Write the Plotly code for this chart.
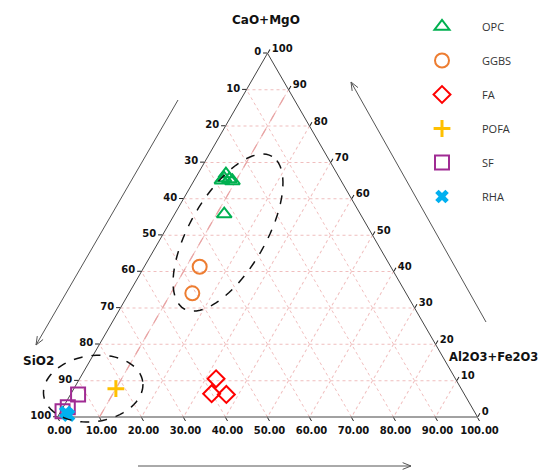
import math
import plotly.graph_objects as go

# ---------------- data (% composition) ----------------
materials = ["OPC", "GGBS", "FA", "POFA", "SF", "RHA"]

opc_cao_mgo = [65.7, 65.4, 66.8, 64.9, 65.1, 55.8]
opc_sio2 = [27.5, 26.4, 26.5, 25.9, 28.3, 32.4]
opc_al_fe = [6.8, 8.2, 6.7, 9.2, 6.6, 11.8]

ggbs_cao_mgo = [41.3, 34.0]
ggbs_sio2 = [45.5, 50.9]
ggbs_al_fe = [13.2, 15.1]

fa_cao_mgo = [10.5, 6.4, 6.2]
fa_sio2 = [57.0, 60.1, 56.7]
fa_al_fe = [32.5, 33.5, 37.1]

pofa_cao_mgo = [7.8]
pofa_sio2 = [82.2]
pofa_al_fe = [10.0]

sf_cao_mgo = [6.2, 2.7, 1.6]
sf_sio2 = [92.0, 96.2, 98.0]
sf_al_fe = [1.8, 1.1, 0.4]

rha_cao_mgo = [1.3, 0.5]
rha_sio2 = [97.4, 97.1]
rha_al_fe = [1.3, 2.4]

tick_values = [0, 10, 20, 30, 40, 50, 60, 70, 80, 90, 100]

# ---------------- layout geometry ----------------
# the page body adds an 8 px margin; work in window pixels and shift
OFF = 8
FW, FH = 550 - OFF, 470 - OFF
TW = 420.0
TH = TW * math.sqrt(3) / 2
X0 = 267.5 - TW / 2   # window px of left corner
YB = 417.0            # window px of bottom edge


def px(x, y):
    return (x - OFF) / FW, 1 - (y - OFF) / FH


def tern_to_px(a, b, c):
    s = a + b + c
    a, c = a / s, c / s
    X = c + a / 2
    return X0 + TW * X, YB - TH * a


series = [
    ("OPC", opc_cao_mgo, opc_sio2, opc_al_fe,
     dict(symbol="triangle-up-open", size=13, color="#00B050", line=dict(width=2, color="#00B050"))),
    ("GGBS", ggbs_cao_mgo, ggbs_sio2, ggbs_al_fe,
     dict(symbol="circle-open", size=14, color="#ED7D31", line=dict(width=2, color="#ED7D31"))),
    ("FA", fa_cao_mgo, fa_sio2, fa_al_fe,
     dict(symbol="diamond-open", size=13, color="#FF0000", line=dict(width=2, color="#FF0000"))),
    ("POFA", pofa_cao_mgo, pofa_sio2, pofa_al_fe,
     dict(symbol="cross-thin-open", size=12, color="#FFC000", line=dict(width=3, color="#FFC000"))),
    ("SF", sf_cao_mgo, sf_sio2, sf_al_fe,
     dict(symbol="square-open", size=14, color="#A02B93", line=dict(width=2, color="#A02B93"))),
    ("RHA", rha_cao_mgo, rha_sio2, rha_al_fe,
     dict(symbol="x", size=12, color="#00B0F0", line=dict(width=0))),
]

fig = go.Figure()

# highlighted 10 % Al2O3+Fe2O3 line
fig.add_trace(go.Scatterternary(
    a=[0, 90], b=[90, 0], c=[10, 10], mode="lines",
    line=dict(color="#E8A3A3", width=1.3, dash="dash"),
    showlegend=False, hoverinfo="skip"))

for name, a, b, c, mk in series:
    fig.add_trace(go.Scatterternary(
        a=a, b=b, c=c, mode="markers", name=name, marker=mk,
        legendgroup=name, cliponaxis=False))

axis_common = dict(
    tickmode="array", tickvals=tick_values,
    linecolor="#444444", linewidth=1,
    showgrid=True, gridcolor="#F0BEBE", griddash="dot", gridwidth=1,
    ticks="outside", ticklen=4, tickcolor="#222222",
    tickfont=dict(family="DejaVu Sans", size=10, color="#111111", weight="bold"),
    title=dict(text=""), layer="below traces", min=0)

dx0, dy_top = px(X0, YB - TH)
dx1, dy_bot = px(X0 + TW, YB)

fig.update_layout(
    width=FW, height=FH,
    margin=dict(l=0, r=0, t=0, b=0),
    paper_bgcolor="white", plot_bgcolor="white",
    ternary=dict(
        domain=dict(x=[dx0, dx1], y=[dy_bot, dy_top]),
        bgcolor="white", sum=100,
        aaxis=dict(axis_common, ticktext=[str(100 - v) for v in tick_values]),
        baxis=dict(axis_common, ticktext=["%.2f" % (100 - v) for v in tick_values]),
        caxis=dict(axis_common, ticktext=[str(100 - v) for v in tick_values]),
    ),
    showlegend=True,
    legend=dict(x=px(402, 0)[0], y=px(0, 12)[1], xanchor="left", yanchor="top",
                orientation="v", tracegroupgap=15, itemwidth=70,
                font=dict(family="Open Sans", size=11, color="#333333"),
                bgcolor="rgba(0,0,0,0)"),
)

# axis titles
for text, x, y, size in [("CaO+MgO", 266, 20, 12), ("SiO2", 38, 361, 12),
                         ("Al2O3+Fe2O3", 493, 357, 11.5)]:
    xx, yy = px(x, y)
    fig.add_annotation(text=text, x=xx, y=yy, xref="paper", yref="paper",
                       xanchor="center", yanchor="middle", showarrow=False,
                       font=dict(family="DejaVu Sans", size=size, color="#111111", weight="bold"))


# dashed ellipses (defined around a ternary centre)
def ellipse_path(center, semi_a, semi_b, angle_deg, n=80):
    cx, cy = tern_to_px(*center)
    t = math.radians(angle_deg)
    pts = []
    for i in range(n + 1):
        u = 2 * math.pi * i / n
        ex, ey = semi_a * math.cos(u), semi_b * math.sin(u)
        x = cx + ex * math.cos(t) - ey * math.sin(t)
        y = cy - (ex * math.sin(t) + ey * math.cos(t))
        pts.append(px(x, y))
    return "M " + " L ".join("%.5f,%.5f" % p for p in pts) + " Z"


for center, sa, sb, ang in [((50.7, 34.05, 15.25), 88, 38, 60), ((7.8, 87.6, 4.6), 50, 33, 8)]:
    fig.add_shape(type="path", path=ellipse_path(center, sa, sb, ang),
                  xref="paper", yref="paper",
                  line=dict(color="#111111", width=1.5, dash="dash"))


# arrows parallel to the sides
def arrow(x1, y1, x2, y2, head=9, spread=22):
    p1, p2 = px(x1, y1), px(x2, y2)
    fig.add_shape(type="line", x0=p1[0], y0=p1[1], x1=p2[0], y1=p2[1],
                  xref="paper", yref="paper", line=dict(color="#555555", width=1))
    ang = math.atan2(y1 - y2, x1 - x2)
    for s in (-1, 1):
        a = ang + s * math.radians(spread)
        hx, hy = x2 + head * math.cos(a), y2 + head * math.sin(a)
        q = px(hx, hy)
        fig.add_shape(type="line", x0=p2[0], y0=p2[1], x1=q[0], y1=q[1],
                      xref="paper", yref="paper", line=dict(color="#555555", width=1))


arrow(178, 100, 36, 345)
arrow(486, 322, 351, 82)
arrow(138, 466, 411, 466)

fig.write_html("out.html")
